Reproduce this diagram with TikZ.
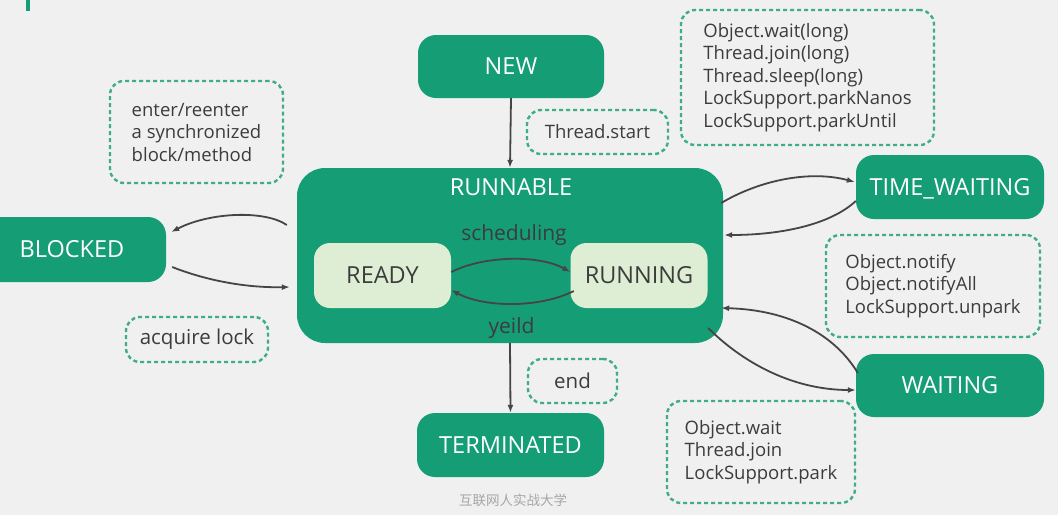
\documentclass[tikz,border=0pt]{standalone}
\usepackage{fontspec}
\setmainfont{Open Sans}
\newfontfamily\cjkfont{Noto Sans CJK SC}
\usetikzlibrary{arrows.meta,calc}
\definecolor{bg}{HTML}{F0F0F0}
\definecolor{grn}{HTML}{159E76}
\definecolor{lgrn}{HTML}{DEEED4}
\definecolor{dsh}{HTML}{3FAE86}
\definecolor{txt}{HTML}{3C3C3C}
\definecolor{arr}{HTML}{454545}
\tikzset{
  bigfont/.style={font=\fontsize{23.5}{28}\selectfont},
  state/.style={fill=grn, rounded corners=18pt, text=white, bigfont, inner sep=0pt, text height=16.8pt, text depth=0pt},
  substate/.style={fill=lgrn, rounded corners=16pt, text=txt, bigfont, inner sep=0pt, text height=16.8pt, text depth=0pt},
  note/.style={draw=dsh, line width=2.4pt, dash pattern=on 4pt off 3pt, rounded corners=14pt, text=txt, align=left, inner sep=0pt, font=\fontsize{18.5}{22.5}\selectfont},
  notebig/.style={note, font=\fontsize{20.5}{24}\selectfont},
  conn/.style={draw=arr, line width=1.8pt, -{Latex[length=8pt,width=6pt]}},
  midlbl/.style={text=txt, font=\fontsize{21}{24}\selectfont, anchor=base, inner sep=0pt}
}
\begin{document}
\begin{tikzpicture}[x=1pt,y=-1pt]
\clip (0,0) rectangle (1058,515);
\fill[bg] (0,0) rectangle (1058,515);
\fill[grn] (26,0) rectangle (30,11);

% states
\node[state, minimum width=186, minimum height=63] (new) at (511,66.5) {NEW};
\node[state, minimum width=426, minimum height=175, rounded corners=28pt] (run) at (510,255.5) {};
\node[text=white, bigfont, anchor=base, inner sep=0pt] (runlbl) at (511,195) {RUNNABLE};
\node[substate, minimum width=137, minimum height=65] (ready) at (382.5,275.5) {READY};
\node[substate, minimum width=137, minimum height=65] (running) at (639,275.5) {RUNNING};
\node[state, minimum width=188, minimum height=65] (blk) at (72,249.5) {BLOCKED};
\node[state, minimum width=188, minimum height=64] (tw) at (950,187) {TIME\_WAITING};
\node[state, minimum width=188, minimum height=63] (wait) at (950,385.5) {WAITING};
\node[state, minimum width=187, minimum height=64] (term) at (510.5,445) {TERMINATED};

\node[midlbl] (sched) at (514,240) {scheduling};
\node[midlbl] (yeild) at (511.5,333) {yeild};

% notes
\node[note, minimum width=173, minimum height=102] (enter) at (196.5,132) {enter/reenter\\a synchronized\\block/method};
\node[note, minimum width=141, minimum height=44] (tstart) at (597.5,132) {Thread.start};
\node[note, minimum width=253, minimum height=135] (timed) at (807.5,77.5) {Object.wait(long)\\Thread.join(long)\\Thread.sleep(long)\\LockSupport.parkNanos\\LockSupport.parkUntil};
\node[notebig, minimum width=142, minimum height=45] (acq) at (197,339.5) {acquire lock};
\node[note, minimum width=214, minimum height=102] (notify) at (933,286) {Object.notify\\Object.notifyAll\\LockSupport.unpark};
\node[notebig, minimum width=89, minimum height=44] (endn) at (572.5,381) {end};
\node[note, minimum width=188, minimum height=102] (waitn) at (761,452) {Object.wait\\Thread.join\\LockSupport.park};

\node[font=\cjkfont\fontsize{13.5}{15}\selectfont, text=black!35] (wm) at (513,500) {互联网人实战大学};

% connectors
\draw[conn] (new.south) -- (run.north);
\draw[conn] (run.south) -- (term.north);
\draw[conn] ([shift={(-10,-30.5)}]run.west) .. controls (265,210) and (210,212) .. ([shift={(5,-17.5)}]blk.east);
\draw[conn] ([shift={(6,17.5)}]blk.east) .. controls (205,280) and (245,288) .. ([shift={(-7,31.5)}]run.west);
\draw[conn] ([shift={(0,-3.5)}]ready.east) .. controls (485,255) and (540,255) .. ([shift={(0,-3.5)}]running.west);
\draw[conn] ([shift={(3.5,15.5)}]running.west) .. controls (540,308) and (485,308) .. ([shift={(0,14.5)}]ready.east);
\draw[conn] ([shift={(-2,-52.5)}]run.east) .. controls (760,180) and (810,170) .. ([shift={(-1,-5)}]tw.west);
\draw[conn] ([shift={(0,14)}]tw.west) .. controls (830,225) and (780,235) .. ([shift={(1,-20.5)}]run.east);
\draw[conn] ([shift={(2,-12.5)}]wait.west) .. controls (835,335) and (790,310) .. ([shift={(-2,52.5)}]run.east);
\draw[conn] ([shift={(-15,72.5)}]run.east) .. controls (740,360) and (790,390) .. ([shift={(0,4.5)}]wait.west);
\end{tikzpicture}
\end{document}
